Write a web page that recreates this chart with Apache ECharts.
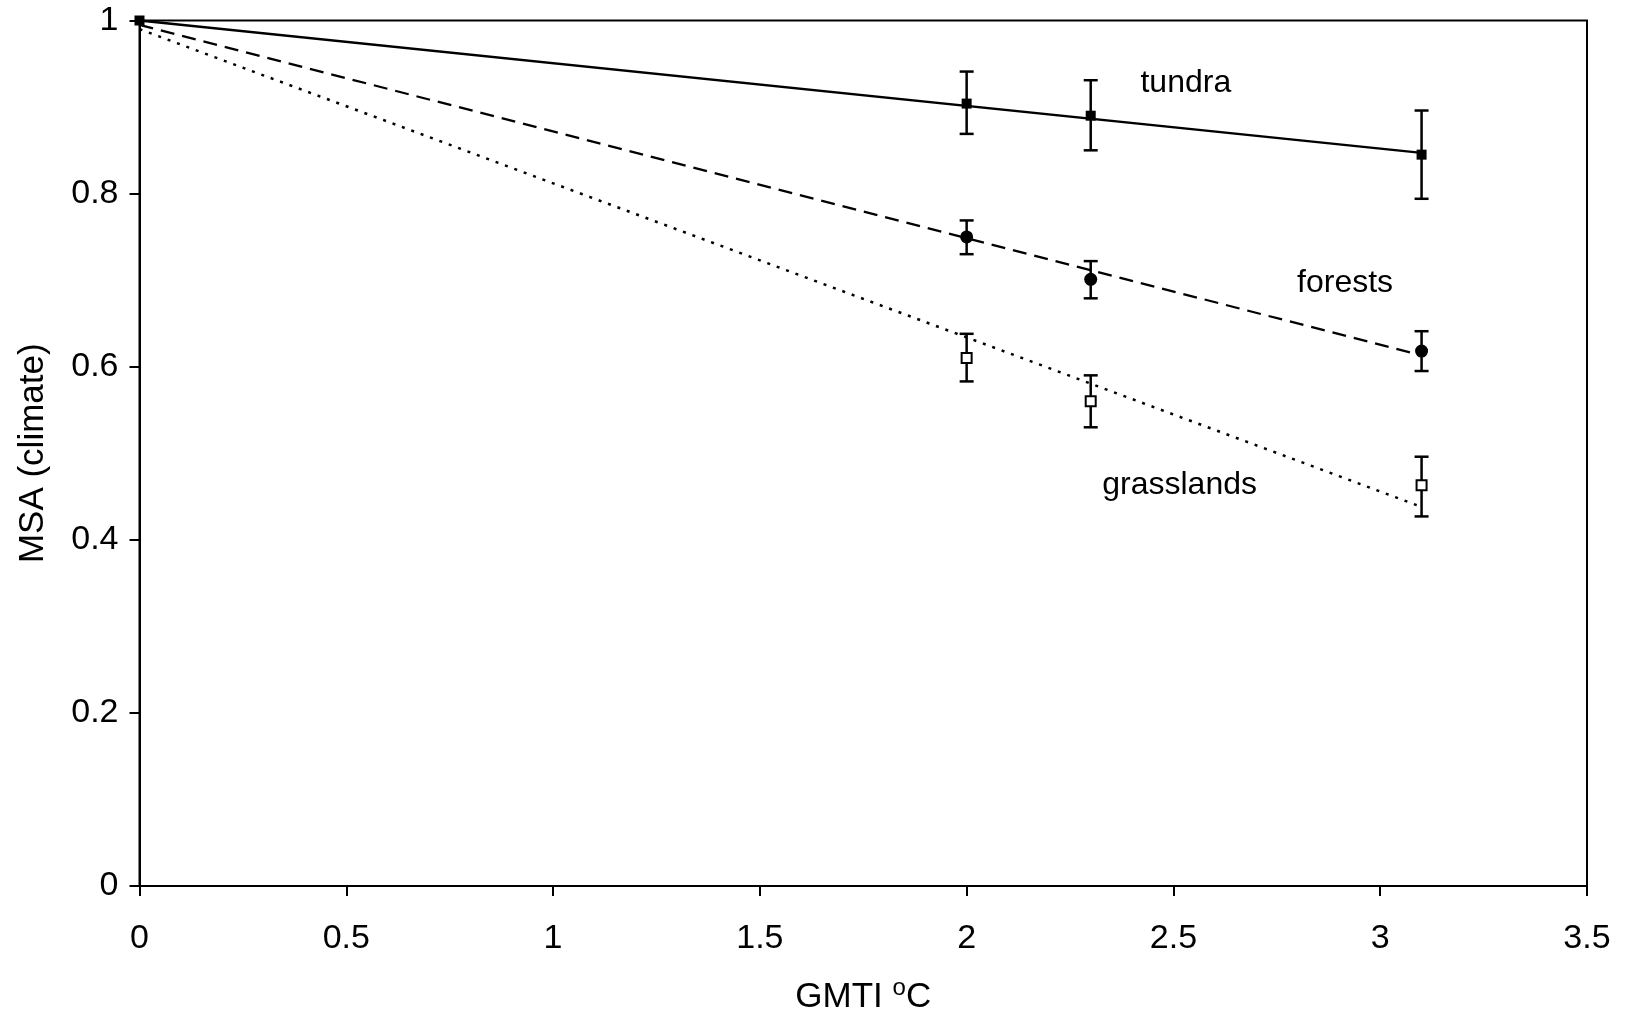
<!DOCTYPE html>
<html>
<head>
<meta charset="utf-8">
<script src="https://cdn.jsdelivr.net/npm/echarts@6/dist/echarts.min.js"></script>
<style>
html,body{margin:0;padding:0;background:#fff;}
#chart{width:1629px;height:1014px;}
</style>
</head>
<body>
<div id="chart"></div>
<script>
// ---- data ----
const xValues = [0, 2, 2.3, 3.1];

const tundraMean  = [1, 0.904, 0.890, 0.845];
const tundraLow   = [1, 0.869, 0.850, 0.794];
const tundraHigh  = [1, 0.941, 0.931, 0.896];

const forestMean  = [1, 0.750, 0.701, 0.618];
const forestLow   = [1, 0.730, 0.679, 0.595];
const forestHigh  = [1, 0.769, 0.722, 0.641];

const grassMean   = [1, 0.610, 0.560, 0.463];
const grassLow    = [1, 0.583, 0.530, 0.427];
const grassHigh   = [1, 0.638, 0.590, 0.496];

// fitted trend lines (start and end values)
const trendX        = [0, 3.1];
const tundraTrend   = [1.000, 0.847];
const forestTrend   = [0.995, 0.613];
const grassTrend    = [0.990, 0.438];

// text annotations
const labelNames = ['tundra', 'forests', 'grasslands'];
const labelX     = [2.53, 2.915, 2.515];
const labelY     = [0.928, 0.697, 0.463];

const xTicks = [0, 0.5, 1, 1.5, 2, 2.5, 3, 3.5];
const yTicks = [0, 0.2, 0.4, 0.6, 0.8, 1];

// ---- build chart ----
const FONT = 'Liberation Sans, Arial, Helvetica, sans-serif';
const zip = (xs, ys) => xs.map((x, i) => [x, ys[i]]);
const errData = (lo, hi) => xValues.map((x, i) => [x, lo[i], hi[i]]).filter(d => d[0] !== 0);

function errorRender(params, api) {
  const x = api.value(0);
  const lo = api.coord([x, api.value(1)]);
  const hi = api.coord([x, api.value(2)]);
  const half = 7;
  const style = { stroke: '#000', lineWidth: 2.5, fill: null };
  return {
    type: 'group',
    children: [
      { type: 'line', shape: { x1: lo[0], y1: lo[1], x2: hi[0], y2: hi[1] }, style },
      { type: 'line', shape: { x1: lo[0] - half, y1: lo[1], x2: lo[0] + half, y2: lo[1] }, style },
      { type: 'line', shape: { x1: hi[0] - half, y1: hi[1], x2: hi[0] + half, y2: hi[1] }, style }
    ]
  };
}

const chart = echarts.init(document.getElementById('chart'), null, { renderer: 'canvas' });

chart.setOption({
  backgroundColor: '#fff',
  animation: false,
  textStyle: { fontFamily: FONT, color: '#000' },
  grid: {
    left: 139.5, top: 20.5, right: 42, bottom: 128,
    containLabel: false, outerBoundsMode: 'none',
    show: true, borderColor: '#000', borderWidth: 2, backgroundColor: 'transparent'
  },
  xAxis: {
    type: 'value', min: 0, max: 3.5, interval: 0.5,
    name: 'GMTI {sup|o}C',
    nameLocation: 'middle', nameGap: 90,
    nameTextStyle: {
      fontFamily: FONT, fontSize: 35, color: '#000',
      rich: { sup: { fontSize: 24, fontFamily: FONT, color: '#000', verticalAlign: 'bottom', padding: [0, 0, 19, 0] } }
    },
    axisLine: { show: true, onZero: false, lineStyle: { color: '#000', width: 2 } },
    axisTick: { show: true, inside: false, length: 10, lineStyle: { color: '#000', width: 2 } },
    axisLabel: {
      fontFamily: FONT, fontSize: 34, color: '#000', margin: 36,
      formatter: v => xTicks.includes(v) ? String(v) : ''
    },
    splitLine: { show: false }
  },
  yAxis: {
    type: 'value', min: 0, max: 1, interval: 0.2,
    name: 'MSA (climate)',
    nameLocation: 'middle', nameGap: 89, nameRotate: 90,
    nameTextStyle: { fontFamily: FONT, fontSize: 35, color: '#000' },
    axisLine: { show: true, onZero: false, lineStyle: { color: '#000', width: 2 } },
    axisTick: { show: true, inside: false, length: 10, lineStyle: { color: '#000', width: 2 } },
    axisLabel: {
      fontFamily: FONT, fontSize: 34, color: '#000', margin: 21,
      formatter: v => {
        const t = yTicks.find(k => Math.abs(k - v) < 1e-9);
        return t === undefined ? '' : String(+t.toFixed(1));
      }
    },
    splitLine: { show: false }
  },
  series: [
    // trend lines
    { type: 'line', data: zip(trendX, tundraTrend), symbol: 'none', silent: true,
      lineStyle: { color: '#000', width: 2.3, type: 'solid' }, z: 2 },
    { type: 'line', data: zip(trendX, forestTrend), symbol: 'none', silent: true,
      lineStyle: { color: '#000', width: 2.3, type: [14, 8] }, z: 2 },
    { type: 'line', data: zip(trendX, grassTrend), symbol: 'none', silent: true,
      lineStyle: { color: '#000', width: 2.5, type: [3, 7] }, z: 2 },
    // error bars
    { type: 'custom', renderItem: errorRender, data: errData(tundraLow, tundraHigh), z: 3 },
    { type: 'custom', renderItem: errorRender, data: errData(forestLow, forestHigh), z: 3 },
    { type: 'custom', renderItem: errorRender, data: errData(grassLow, grassHigh), z: 3 },
    // markers
    { type: 'scatter', data: zip(xValues, tundraMean), symbol: 'rect', symbolSize: 10,
      itemStyle: { color: '#000', opacity: 1 }, z: 4 },
    { type: 'scatter', data: zip(xValues, forestMean).slice(1), symbol: 'circle', symbolSize: 13,
      itemStyle: { color: '#000', opacity: 1 }, z: 4 },
    { type: 'scatter', data: zip(xValues, grassMean).slice(1), symbol: 'rect', symbolSize: 10,
      itemStyle: { color: '#fff', borderColor: '#000', borderWidth: 2, opacity: 1 }, z: 4 },
    // annotations
    { type: 'scatter', symbolSize: 0, silent: true, z: 5,
      data: labelNames.map((n, i) => ({ name: n, value: [labelX[i], labelY[i]] })),
      label: { show: true, position: 'inside', formatter: p => p.name,
        fontFamily: FONT, fontSize: 32, color: '#000', textBorderWidth: 0, opacity: 1 } }
  ]
});
</script>
</body>
</html>
